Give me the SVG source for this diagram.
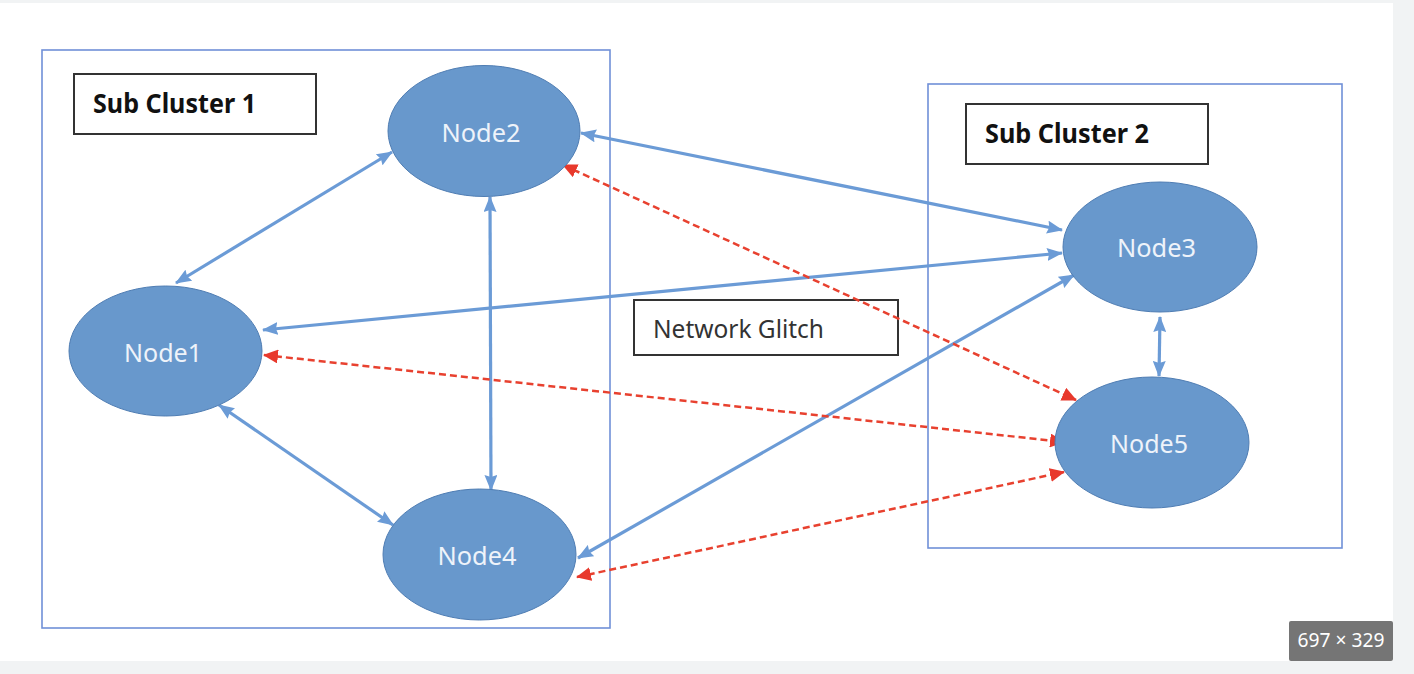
<svg xmlns="http://www.w3.org/2000/svg" width="1414" height="674" viewBox="0 0 1414 674">
<style>
.cluster{fill:none;stroke:#7090d8;stroke-width:1.6}
.label{fill:#fff;stroke:#333;stroke-width:2}
.ltxt{font-family:"Noto Sans","Liberation Sans",sans-serif;font-weight:bold;font-size:26px;fill:#111}
.node{fill:#6898cc;stroke:#4f7db3;stroke-width:1}
.ntxt{font-family:"Noto Sans","Liberation Sans",sans-serif;font-size:25px;fill:#eef3fa;text-anchor:middle}
.blue{stroke:#6b9bd6;stroke-width:3.2;fill:none;marker-start:url(#ab);marker-end:url(#ab)}
.red{stroke:#e8412f;stroke-width:2.5;fill:none;stroke-dasharray:7 4;marker-start:url(#ar);marker-end:url(#ar)}
</style>
<defs>
<marker id="ab" markerUnits="userSpaceOnUse" markerWidth="16" markerHeight="13" refX="15" refY="6.5" orient="auto-start-reverse" viewBox="0 0 16 13">
<path d="M0,0 L16,6.5 L0,13 L2,6.5 z" fill="#6b9bd6"/>
</marker>
<marker id="ar" markerUnits="userSpaceOnUse" markerWidth="15" markerHeight="14" refX="14" refY="7" orient="auto-start-reverse" viewBox="0 0 15 14">
<path d="M0,0 L15,7 L0,14 z" fill="#e8392c"/>
</marker>
</defs>
<rect x="0" y="0" width="1414" height="674" fill="#f1f3f4"/>
<rect x="0" y="3" width="1393" height="658" fill="#ffffff"/>

<g id="cluster1">
<rect class="cluster" x="42" y="50" width="568" height="578"/>
<rect class="label" x="74" y="74" width="242" height="60"/>
<text class="ltxt" x="93" y="113" textLength="163" lengthAdjust="spacingAndGlyphs">Sub Cluster 1</text>
</g>
<g id="cluster2">
<rect class="cluster" x="928" y="84" width="414" height="464"/>
<rect class="label" x="966" y="104" width="242" height="60"/>
<text class="ltxt" x="985" y="143" textLength="164" lengthAdjust="spacingAndGlyphs">Sub Cluster 2</text>
</g>

<g id="glitch">
<rect class="label" x="634" y="300" width="264" height="55"/>
<text x="653" y="338" font-family="'Noto Sans','Liberation Sans',sans-serif" font-size="25" fill="#333" textLength="171" lengthAdjust="spacingAndGlyphs">Network Glitch</text>
</g>

<g id="connectors">
<line class="blue" x1="176" y1="283" x2="392" y2="152"/>
<line class="blue" x1="490" y1="197" x2="491" y2="490"/>
<line class="blue" x1="219" y1="405" x2="393" y2="525"/>
<line class="blue" x1="581" y1="133" x2="1062" y2="230"/>
<line class="blue" x1="263" y1="330" x2="1062" y2="253"/>
<line class="blue" x1="578" y1="558" x2="1074" y2="275"/>
<line class="blue" x1="1160" y1="317" x2="1159" y2="376"/>
<line class="red" x1="563" y1="165" x2="1076" y2="400"/>
<line class="red" x1="264" y1="355" x2="1064" y2="442"/>
<line class="red" x1="577" y1="577" x2="1064" y2="472"/>
</g>

<g id="node1">
<ellipse class="node" cx="165.5" cy="351" rx="96.5" ry="65"/>
<text class="ntxt" x="163" y="362" textLength="78" lengthAdjust="spacingAndGlyphs">Node1</text>
</g>
<g id="node2">
<ellipse class="node" cx="484" cy="131" rx="96" ry="65.5"/>
<text class="ntxt" x="481" y="142" textLength="79" lengthAdjust="spacingAndGlyphs">Node2</text>
</g>
<g id="node3">
<ellipse class="node" cx="1160" cy="247" rx="97" ry="65"/>
<text class="ntxt" x="1156.5" y="257" textLength="79" lengthAdjust="spacingAndGlyphs">Node3</text>
</g>
<g id="node4">
<ellipse class="node" cx="479.5" cy="554.5" rx="96.5" ry="65.5"/>
<text class="ntxt" x="477" y="565" textLength="79" lengthAdjust="spacingAndGlyphs">Node4</text>
</g>
<g id="node5">
<ellipse class="node" cx="1152" cy="442.5" rx="97" ry="65.5"/>
<text class="ntxt" x="1149" y="453" textLength="78" lengthAdjust="spacingAndGlyphs">Node5</text>
</g>

<g id="badge">
<rect x="1289" y="621" width="104" height="40" rx="2" fill="#757575"/>
<text x="1341" y="647" font-family="'Noto Sans','Liberation Sans',sans-serif" font-size="19" fill="#fff" text-anchor="middle" textLength="87" lengthAdjust="spacingAndGlyphs">697 × 329</text>
</g>
</svg>
